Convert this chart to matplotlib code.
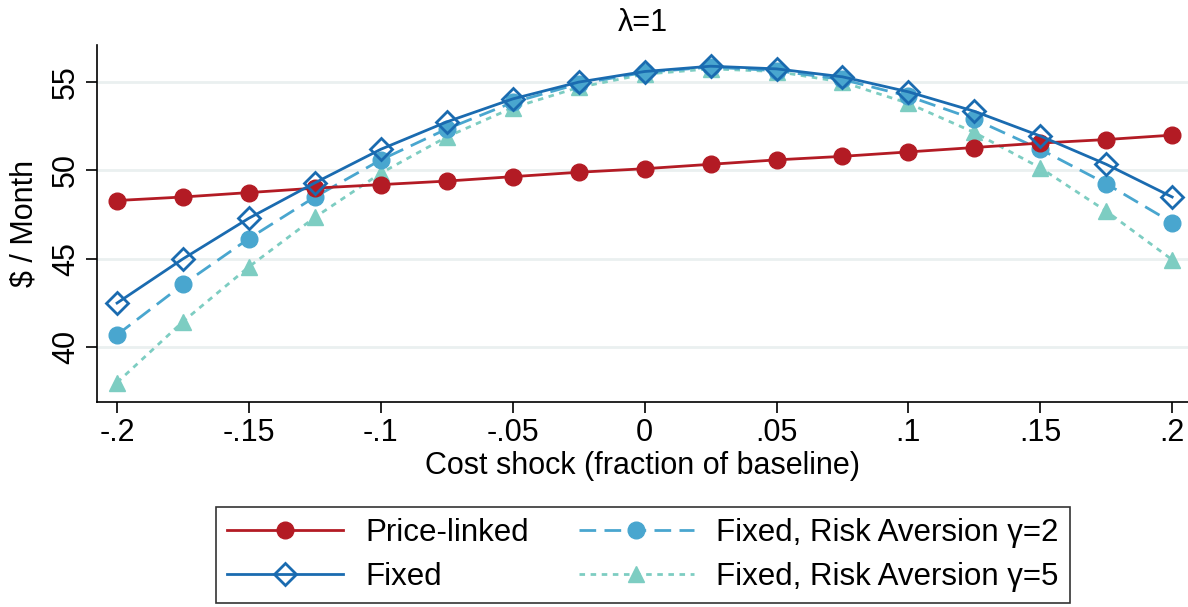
import numpy as np
import matplotlib.pyplot as plt

plt.rcParams['font.family'] = ['Liberation Sans', 'DejaVu Sans']

shock = [-0.2, -0.175, -0.15, -0.125, -0.1, -0.075, -0.05, -0.025, 0.0,
         0.025, 0.05, 0.075, 0.1, 0.125, 0.15, 0.175, 0.2]
price_linked = [48.3, 48.5, 48.75, 49.0, 49.2, 49.4, 49.65, 49.9, 50.1,
                50.35, 50.6, 50.8, 51.05, 51.3, 51.55, 51.75, 52.0]
fixed = [42.5, 45.0, 47.3, 49.3, 51.2, 52.75, 54.05, 55.0, 55.6,
         55.9, 55.75, 55.3, 54.45, 53.35, 51.95, 50.35, 48.5]
fixed_g2 = [40.7, 43.55, 46.15, 48.5, 50.6, 52.35, 53.85, 54.9, 55.55,
            55.85, 55.65, 55.15, 54.2, 52.9, 51.2, 49.25, 47.05]
fixed_g5 = [38.0, 41.45, 44.55, 47.35, 49.85, 51.9, 53.55, 54.7, 55.45,
            55.75, 55.6, 55.0, 53.8, 52.15, 50.15, 47.7, 44.95]

xticks = [-0.2, -0.15, -0.1, -0.05, 0, 0.05, 0.1, 0.15, 0.2]
xticklabels = ['-.2', '-.15', '-.1', '-.05', '0', '.05', '.1', '.15', '.2']
yticks = [40, 45, 50, 55]

c_red = '#B31B24'
c_blue = '#1A6BB0'
c_g2 = '#49A6CF'
c_g5 = '#7DCDC2'

fig = plt.figure(figsize=(11.88, 6.07), dpi=100)
ax = fig.add_axes([97/1188, 1-402/607, (1188-97)/1188, (402-45)/607])

ax.plot(shock, price_linked, color=c_red, lw=2, marker='o', ms=12,
        label='Price-linked', zorder=5)
ax.plot(shock, fixed, color=c_blue, lw=2, marker='D', ms=11, mfc='none',
        mew=2, label='Fixed', zorder=6)
ax.plot(shock, fixed_g2, color=c_g2, lw=2, ls=(0, (6, 3)), marker='o', ms=12,
        label='Fixed, Risk Aversion \u03b3=2', zorder=4)
ax.plot(shock, fixed_g5, color=c_g5, lw=2, ls=(0, (2, 2)), marker='^', ms=11,
        label='Fixed, Risk Aversion \u03b3=5', zorder=3)

ax.set_xlim(-0.2076, 0.206)
ax.set_ylim(36.9, 57.1)
ax.set_xticks(xticks)
ax.set_xticklabels(xticklabels)
ax.set_yticks(yticks)
for t in ax.get_yticklabels():
    t.set_rotation(90)
    t.set_va('center')
ax.tick_params(labelsize=22, length=8, width=1.2)
ax.grid(axis='y', color='#EAF0F0', lw=2)
ax.set_axisbelow(True)
for s in ['top', 'right']:
    ax.spines[s].set_visible(False)
for s in ['left', 'bottom']:
    ax.spines[s].set_linewidth(1.2)

ax.set_title('\u03bb=1', fontsize=22, pad=10)
ax.set_xlabel('Cost shock (fraction of baseline)', fontsize=22, labelpad=2)
ax.set_ylabel('$ / Month', fontsize=22, labelpad=8)

leg = fig.legend(loc='center', bbox_to_anchor=(643/1188, 1-555/607), ncol=2,
                 fontsize=22.5, frameon=True, fancybox=False, edgecolor='black',
                 handlelength=3.7, handletextpad=0.7, columnspacing=1.6,
                 labelspacing=0.45, borderpad=0.35)
leg.get_frame().set_linewidth(1.2)

fig.savefig('out.png', dpi=100)
